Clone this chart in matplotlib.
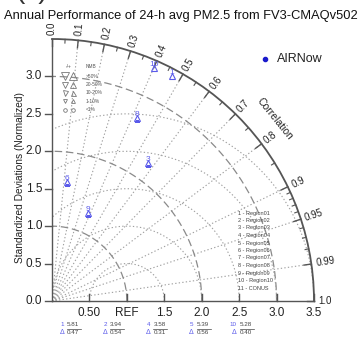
import numpy as np
import matplotlib
matplotlib.use('Agg')
import matplotlib.pyplot as plt

plt.rcParams['font.family'] = ['Liberation Sans', 'DejaVu Sans']

# ---------------- data ----------------
title = "Annual Performance of 24-h avg PM2.5 from FV3-CMAQv502"
panel_tag = "(c)"
obs_name = "AIRNow"

# points inside the diagram (normalized std, correlation)
pt_ids = ['3', '6', '8', '9']
pt_std = [2.25, 1.60, 2.69, 1.27]
pt_corr = [0.57, 0.125, 0.42, 0.38]

# points outside the range (std > 3.5), listed under the diagram
out_ids = ['1', '2', '4', '5', '10']
out_std = ['5.81', '3.94', '3.58', '5.39', '5.28']
out_corr = ['0.47', '0.54', '0.31', '0.56', '0.40']

# out-of-range points that appear on the outer edge
edge_ids = ['10', '1']
edge_corr = [0.40, 0.47]

regions = ['Region01', 'Region02', 'Region03', 'Region04', 'Region05',
           'Region06', 'Region07', 'Region08', 'Region09', 'Region10', 'CONUS']

corr_major = [0.0, 0.1, 0.2, 0.3, 0.4, 0.5, 0.6, 0.7, 0.8, 0.9, 0.95, 0.99, 1.0]
corr_major_lbl = ['0.0', '0.1', '0.2', '0.3', '0.4', '0.5', '0.6', '0.7', '0.8',
                  '0.9', '0.95', '0.99', '1.0']
corr_minor = [0.05, 0.15, 0.25, 0.35, 0.45, 0.55, 0.65, 0.75, 0.85,
              0.91, 0.92, 0.93, 0.94, 0.96, 0.97, 0.98]
x_ticks = [0.5, 1.0, 1.5, 2.0, 2.5, 3.0, 3.5]
x_tick_lbl = ['0.50', 'REF', '1.5', '2.0', '2.5', '3.0', '3.5']
y_ticks = [0.0, 0.5, 1.0, 1.5, 2.0, 2.5, 3.0]
y_tick_lbl = ['0.0', '0.5', '1.0', '1.5', '2.0', '2.5', '3.0']
std_arcs = [1.0, 2.0, 3.0]
rms_circles = [0.5, 1.0, 1.5, 2.0, 2.5]
nmb_rows = ['>50%', '20-50%', '10-20%', '1-10%', '<1%']
RMAX = 3.5

# ---------------- figure ----------------
W, H = 362, 341
fig = plt.figure(figsize=(W / 100, H / 100), dpi=100)

def fx(px):
    return px / W

def fy(py):
    return 1 - py / H

ox, oy, R = 52, 301, 262
pos = [fx(ox), fy(oy), R / W, R / H]

BLUE = '#5a5aea'
GRID = '#a0a0a0'
AXC = '#555555'

pax = fig.add_axes(pos, projection='polar')
pax.set_thetalim(0, np.pi / 2)
pax.set_rlim(0, RMAX)
pax.grid(False)
pax.set_xticks([])
pax.set_yticks([])
pax.spines['polar'].set_color(AXC)
pax.spines['polar'].set_linewidth(1.3)
pax.spines['start'].set_color(AXC)
pax.spines['end'].set_color(AXC)
pax.spines['start'].set_linewidth(1.0)
pax.spines['end'].set_linewidth(1.0)
pax.spines['inner'].set_visible(False)

# radial correlation grid lines
for c in corr_major[1:-1]:
    th = np.arccos(c)
    pax.plot([th, th], [0, RMAX], ls=(0, (1.2, 2.0)), color=GRID, lw=0.8)

# std arcs
ths = np.linspace(0, np.pi / 2, 300)
for s in std_arcs:
    pax.plot(ths, np.full_like(ths, s), ls=(0, (6, 3)), color='#8a8a8a', lw=0.9)

# RMS circles centered at REF
tt = np.linspace(0, np.pi, 600)
for rr in rms_circles:
    xx = 1 + rr * np.cos(tt)
    yy = rr * np.sin(tt)
    r = np.hypot(xx, yy)
    th = np.arctan2(yy, xx)
    ok = (r <= RMAX) & (xx >= 0)
    r = np.where(ok, r, np.nan)
    pax.plot(th, r, ls=(0, (1.2, 2.0)), color=GRID, lw=0.8)

# correlation ticks and labels
for c, lab in zip(corr_major, corr_major_lbl):
    th = np.arccos(c)
    pax.plot([th, th], [RMAX - 0.1, RMAX], color=AXC, lw=1.0, clip_on=False)
    pax.text(th, RMAX + 0.06, lab, rotation=np.degrees(th), rotation_mode='anchor',
             ha='left', va='center', fontsize=7, color='#222222')
for c in corr_minor:
    th = np.arccos(c)
    pax.plot([th, th], [RMAX - 0.05, RMAX], color=AXC, lw=0.8, clip_on=False)

# data points
for lab, s, c in zip(pt_ids, pt_std, pt_corr):
    th = np.arccos(c)
    pax.plot([th], [s], marker='^', ms=5, mfc='none', mec=BLUE, mew=0.8)
    pax.annotate(lab, (th, s), xytext=(0, 2.5), textcoords='offset points',
                 ha='center', va='center', fontsize=6, color=BLUE)
for lab, c in zip(edge_ids, edge_corr):
    th = np.arccos(c)
    pax.plot([th], [RMAX - 0.1], marker='^', ms=5, mfc='none', mec=BLUE, mew=0.8,
             clip_on=False)
    pax.annotate(lab, (th, RMAX - 0.1), xytext=(0, 2.5), textcoords='offset points',
                 ha='center', va='center', fontsize=6, color=BLUE)

# ---------------- Cartesian overlay for the std axes ----------------
cax = fig.add_axes(pos)
cax.set_xlim(0, RMAX)
cax.set_ylim(0, RMAX)
cax.axis('off')
cax.patch.set_visible(False)

for v, lab in zip(x_ticks, x_tick_lbl):
    cax.plot([v, v], [0, 0.09], color=AXC, lw=1.0, clip_on=False)
    cax.text(v, -0.16, lab, ha='center', va='center', fontsize=8.5, color='#222222')
for v, lab in zip(y_ticks, y_tick_lbl):
    cax.plot([-0.09, 0], [v, v], color=AXC, lw=1.0, clip_on=False)
    cax.text(-0.13, v, lab, ha='right', va='center', fontsize=8.5, color='#222222')

cax.text(2.97, 2.43, 'Correlation', rotation=-51, ha='center', va='center',
         fontsize=7.5, color='#222222')

# ---------------- texts around ----------------
fig.text(fx(181), fy(16), title, ha='center', va='center', fontsize=9.3, color='#111111')
fig.text(fx(32), fy(-2), panel_tag, ha='center', va='baseline', fontsize=20, color='#333333')
fig.text(fx(20), fy(178), 'Standardized Deviations (Normalized)', rotation=90,
         ha='center', va='center', fontsize=7.3, color='#222222')

# observation legend
fig.add_artist(plt.Line2D([fx(265)], [fy(59)], marker='o', ms=3, color='#1a1acc',
                          transform=fig.transFigure))
fig.text(fx(277), fy(59), obs_name, ha='left', va='center', fontsize=9, color='#222222')

# NMB legend
fig.text(fx(69), fy(66), '-/+', ha='center', va='center', fontsize=3.5, color='#555555')
fig.text(fx(86), fy(66), 'NMB', ha='left', va='center', fontsize=3.5, color='#555555')
sizes = [5.5, 4.5, 3.6, 2.8, 2.6]
for i, (lab, ms) in enumerate(zip(nmb_rows, sizes)):
    yy = 76 + i * 8.5
    m1, m2 = ('o', 'o') if i == len(nmb_rows) - 1 else ('v', '^')
    for xm, mk in ((65, m1), (73, m2)):
        fig.add_artist(plt.Line2D([fx(xm)], [fy(yy)], marker=mk, ms=ms, mfc='none',
                                  mec='#777777', mew=0.6, transform=fig.transFigure))
    fig.text(fx(86), fy(yy), lab, ha='left', va='center', fontsize=3.5, color='#555555')

# region list
for i, name in enumerate(regions):
    fig.text(fx(238), fy(213 + i * 7.5), f"{i + 1} - {name}", ha='left', va='center',
             fontsize=4, color='#444444')

# out-of-range table
for i, (lab, s, c) in enumerate(zip(out_ids, out_std, out_corr)):
    xg = 64 + i * 43.2
    fig.text(fx(xg), fy(325), lab, ha='right', va='center', fontsize=4.5, color=BLUE)
    fig.text(fx(xg), fy(333), '\u0394', ha='right', va='center', fontsize=5, color=BLUE)
    fig.text(fx(xg + 3), fy(325), s, ha='left', va='center', fontsize=4.5, color='#444444')
    fig.text(fx(xg + 3), fy(333), c, ha='left', va='center', fontsize=4.5, color='#444444')
    fig.add_artist(plt.Line2D([fx(xg + 3), fx(xg + 17)], [fy(329), fy(329)], lw=0.5,
                              color='#444444', transform=fig.transFigure))

fig.savefig('out.png', dpi=100)
